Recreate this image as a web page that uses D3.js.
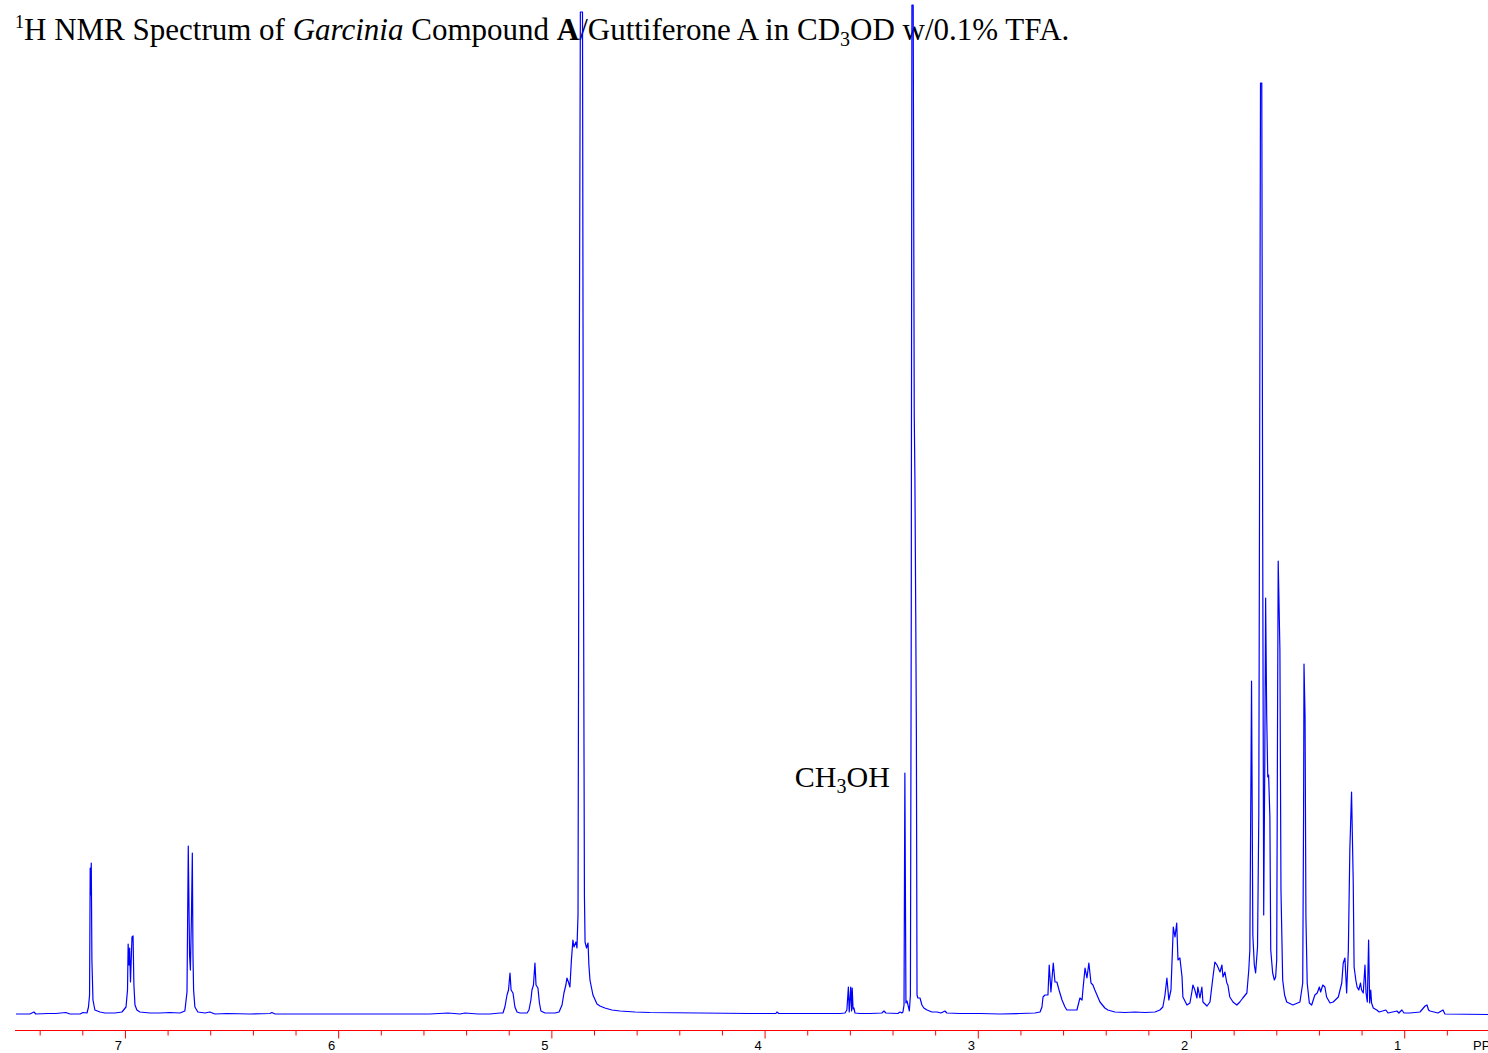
<!DOCTYPE html>
<html>
<head>
<meta charset="utf-8">
<script src="https://cdn.jsdelivr.net/npm/d3@7"></script>
<style>
  html, body { margin: 0; padding: 0; background: #fff; }
  svg { display: block; }
</style>
</head>
<body>
<svg id="chart" width="1488" height="1053"></svg>
<script>
// Chemical shift (ppm) of each traced point of the spectrum
const shiftPpm = [
  7.511, 7.446, 7.427, 7.418, 7.361, 7.324, 7.277, 7.258, 7.211, 7.197, 7.178, 7.171, 7.166, 7.163, 7.161, 7.158, 7.155, 7.150, 7.141, 7.117,
  7.094, 7.047, 7.014, 6.995, 6.988, 6.985, 6.981, 6.978, 6.974, 6.967, 6.962, 6.958, 6.953, 6.944, 6.930, 6.883, 6.836, 6.789, 6.742, 6.719,
  6.709, 6.703, 6.697, 6.693, 6.688, 6.684, 6.681, 6.678, 6.672, 6.658, 6.625, 6.602, 6.578, 6.522, 6.414, 6.320, 6.311, 6.296, 6.179, 5.944,
  5.710, 5.569, 5.485, 5.428, 5.405, 5.344, 5.288,
  5.241, 5.227, 5.218, 5.208, 5.201, 5.194, 5.189, 5.180, 5.171, 5.161, 5.147, 5.114, 5.105, 5.096, 5.091, 5.084, 5.077, 5.072, 5.063, 5.056,
  5.049, 5.030, 4.983, 4.964, 4.950, 4.941, 4.932, 4.927, 4.920, 4.913, 4.906, 4.899, 4.894, 4.885, 4.880, 4.875, 4.871, 4.864, 4.859, 4.854,
  4.850, 4.845, 4.842, 4.835, 4.828, 4.824, 4.819, 4.805, 4.786, 4.772, 4.749, 4.716, 4.678, 4.608, 4.538, 4.303, 4.069, 3.947, 3.942, 3.933,
  3.834, 3.740, 3.646, 3.623, 3.614, 3.607, 3.603, 3.596, 3.592, 3.589, 3.585, 3.581, 3.576, 3.553, 3.506, 3.450, 3.440, 3.431, 3.375, 3.365,
  3.356, 3.351, 3.346, 3.342, 3.337, 3.332, 3.325, 3.321, 3.316, 3.312, 3.309, 3.303, 3.298, 3.295, 3.291, 3.288, 3.285, 3.281, 3.271, 3.262,
  3.253, 3.238, 3.215, 3.191, 3.173, 3.154, 3.145, 3.084, 2.990, 2.896, 2.802, 2.732, 2.708,
  2.699, 2.694, 2.685, 2.671, 2.665, 2.657, 2.646, 2.638, 2.629, 2.619, 2.605, 2.591, 2.582, 2.558, 2.535, 2.521, 2.511, 2.507, 2.497, 2.488,
  2.479, 2.469, 2.460, 2.451, 2.441, 2.427, 2.404, 2.390, 2.357, 2.310, 2.263, 2.216, 2.169, 2.146,
  2.132, 2.122, 2.113, 2.104, 2.094, 2.083, 2.075, 2.067, 2.061, 2.052, 2.042, 2.038, 2.019, 2.005, 1.996, 1.991, 1.982, 1.972, 1.968, 1.958,
  1.949, 1.944, 1.925, 1.911, 1.897, 1.888, 1.878, 1.874, 1.864, 1.855, 1.850, 1.841, 1.832, 1.827, 1.818, 1.803, 1.785, 1.771, 1.757, 1.738,
  1.729, 1.724, 1.716, 1.710, 1.703, 1.697, 1.688, 1.682, 1.674, 1.668, 1.664, 1.659, 1.654, 1.650, 1.645, 1.640, 1.636, 1.630, 1.626, 1.617,
  1.609, 1.603, 1.598, 1.594, 1.591, 1.583, 1.578, 1.570, 1.561, 1.551, 1.522, 1.489, 1.476, 1.472, 1.470, 1.465, 1.461, 1.455, 1.445, 1.434,
  1.419, 1.408, 1.398, 1.392, 1.382, 1.372, 1.364, 1.348, 1.333, 1.309, 1.293, 1.286, 1.278, 1.270, 1.262, 1.255, 1.247, 1.239, 1.235, 1.227,
  1.221, 1.213, 1.205, 1.200, 1.192, 1.184, 1.179, 1.173, 1.167, 1.162, 1.157, 1.153, 1.145, 1.129, 1.117, 1.086, 1.076, 1.034, 1.025, 1.011,
  1.001, 0.973, 0.926, 0.902, 0.893, 0.886, 0.879, 0.842, 0.818, 0.809, 0.607
];

// Signal intensity (arbitrary units) at each traced point
const signal = [
  1, 1, 3, 1, 1.5, 1.5, 2.5, 1, 1, 2.5, 2, 8, 20, 147, 120, 152, 55, 15, 5, 3,
  2, 2, 3, 8, 25, 71, 50, 67, 33, 78, 79, 30, 10, 5, 3, 2, 2, 2.5, 2, 4,
  23, 169, 60, 45, 100, 162, 60, 25, 8, 3, 2, 3, 1, 1.5, 1, 1.5, 2.5, 1, 1, 1,
  1, 1, 2, 1, 2, 1, 1,
  2, 2, 8, 20, 25, 42, 25, 22, 8, 3, 2, 2, 5, 15, 25, 30, 52, 30, 27, 12,
  4, 2, 2, 3, 10, 22, 30, 37, 33, 28, 55, 75, 68, 73, 67, 100, 500, 1003, 1003, 1003,
  500, 120, 73, 67, 72, 50, 35, 20, 11, 9, 7, 5, 4, 3, 2.5, 2, 1.5, 1.5, 3, 1.5,
  1.5, 1.5, 1.5, 2, 5, 28, 3, 28, 4, 27, 6, 7, 2, 1.5, 1.5, 2, 4, 2, 1.5, 3,
  2, 3, 10, 242, 12, 14, 8, 4, 20, 400, 1010, 1010, 600, 540, 400, 280, 20, 17, 17, 10,
  7, 5, 3, 3, 2, 4, 2, 1.5, 1.5, 1, 1.5, 2, 3,
  8, 18, 20, 20, 50, 23, 52, 33, 33, 25, 15, 8, 5, 5, 5, 17, 15, 25, 47, 37,
  52, 32, 30, 25, 20, 13, 7, 5, 3, 2.5, 3, 2.5, 3, 5,
  8, 20, 37, 15, 25, 88, 78, 92, 55, 57, 38, 18, 10, 12, 23, 30, 25, 17, 28, 17,
  28, 13, 9, 13, 38, 53, 50, 48, 43, 50, 38, 43, 32, 30, 18, 13, 10, 13, 17, 22,
  45, 65, 334, 80, 50, 42, 68, 200, 932, 932, 500, 100, 250, 417, 300, 238, 240, 198, 65, 42,
  35, 38, 55, 300, 454, 365, 125, 35, 20, 13, 10, 13, 32, 200, 351, 298, 98, 32, 12, 10,
  20, 22, 28, 23, 30, 28, 18, 12, 13, 18, 32, 52, 57, 22, 65, 165, 223, 132, 48, 35,
  28, 25, 32, 25, 22, 50, 22, 13, 75, 12, 25, 12, 7, 5, 3, 5, 2, 4, 2, 5,
  2, 2, 3, 9, 10, 5, 4, 2, 5, 1, 0.5
];

const majorTicks = [7, 6, 5, 4, 3, 2, 1];
const minorTicks = [7.4, 7.2, 6.8, 6.6, 6.4, 6.2, 5.8, 5.6, 5.4, 5.2, 4.8, 4.6, 4.4, 4.2,
  3.8, 3.6, 3.4, 3.2, 2.8, 2.6, 2.4, 2.2, 1.8, 1.6, 1.4, 1.2, 0.8];
const axisUnit = "PPM";
const annotation = { ppm: 3.342, text: ["CH", "3", "OH"] };

const svg = d3.select("#chart");

const x = d3.scaleLinear().domain([7.511, 0.607]).range([16, 1488]);
const y = d3.scaleLinear().domain([0, 1015]).range([1015, 0]);

// Title (drawn first, spectrum overlaps it)
const title = svg.append("text")
  .attr("x", 15).attr("y", 40)
  .attr("font-family", "'Liberation Serif', 'Times New Roman', serif")
  .attr("font-size", 31)
  .attr("fill", "#000");
title.append("tspan").attr("font-size", 18).attr("dy", -12).text("1");
title.append("tspan").attr("dy", 12).text("H NMR Spectrum of ");
title.append("tspan").attr("font-style", "italic").text("Garcinia");
title.append("tspan").text(" Compound ");
title.append("tspan").attr("font-weight", "bold").text("A");
title.append("tspan").text("/Guttiferone A in CD");
title.append("tspan").attr("font-size", 20).attr("dy", 6).text("3");
title.append("tspan").attr("dy", -6).text("OD w/0.1% TFA.");

// CH3OH annotation
const ann = svg.append("text")
  .attr("x", x(annotation.ppm) - 15).attr("y", 787)
  .attr("text-anchor", "end")
  .attr("font-family", "'Liberation Serif', 'Times New Roman', serif")
  .attr("font-size", 30)
  .attr("fill", "#000");
ann.append("tspan").text(annotation.text[0]);
ann.append("tspan").attr("font-size", 20).attr("dy", 6).text(annotation.text[1]);
ann.append("tspan").attr("dy", -6).text(annotation.text[2]);

// Spectrum
const pts = shiftPpm.map((p, i) => [p, signal[i]]);
const line = d3.line().x(d => x(d[0])).y(d => y(d[1]));
svg.append("path")
  .datum(pts)
  .attr("d", line)
  .attr("fill", "none")
  .attr("stroke", "#0000ff")
  .attr("stroke-width", 1.2)
  .attr("stroke-linejoin", "round");

// Axis
const axisY = 1030.5;
const minorAxis = d3.axisBottom(x).tickValues(minorTicks).tickSize(5).tickSizeOuter(0).tickFormat("");
const gMinor = svg.append("g").attr("transform", `translate(0,${axisY})`).call(minorAxis);
gMinor.select(".domain").remove();
gMinor.selectAll(".tick line").attr("stroke", "#ff0000");

const majorAxis = d3.axisBottom(x).tickValues(majorTicks).tickSize(8).tickSizeOuter(0).tickFormat(d3.format("d"));
const gMajor = svg.append("g").attr("transform", `translate(0,${axisY})`).call(majorAxis);
gMajor.select(".domain").attr("stroke", "#ff0000").attr("stroke-width", 1.2).attr("d", "M15,0H1488");
gMajor.selectAll(".tick line").attr("stroke", "#ff0000");
gMajor.selectAll(".tick text")
  .attr("x", -7).attr("y", 10)
  .attr("font-family", "'Liberation Sans', Arial, sans-serif")
  .attr("font-size", 13)
  .attr("fill", "#000");

svg.append("text")
  .attr("x", 1473).attr("y", 1050)
  .attr("font-family", "'Liberation Sans', Arial, sans-serif")
  .attr("font-size", 13)
  .attr("fill", "#000")
  .text(axisUnit);
</script>
</body>
</html>
